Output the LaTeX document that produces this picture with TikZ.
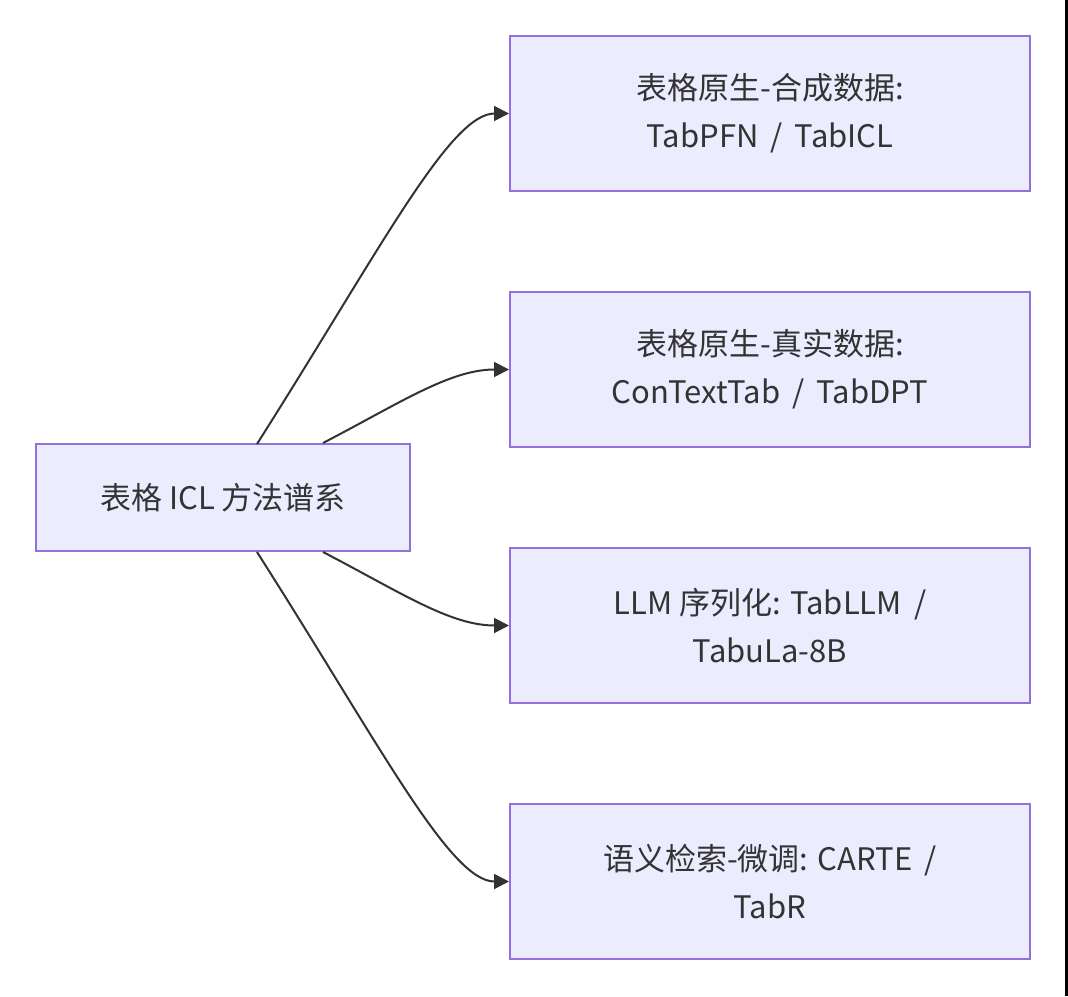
\documentclass[tikz,border=0pt]{standalone}
\usepackage{fontspec}
\setmainfont{Noto Sans CJK SC}
\usetikzlibrary{arrows.meta}
\definecolor{boxfill}{HTML}{ECECFF}
\definecolor{boxline}{HTML}{9370DB}
\definecolor{ink}{HTML}{333333}
\begin{document}
\begin{tikzpicture}[x=1pt,y=-1pt,
  box/.style={draw=boxline,fill=boxfill,line width=2pt,text=ink,align=center,
    font=\fontsize{31}{48}\selectfont,inner sep=0pt},
  edge/.style={draw=ink,line width=2pt,-{Triangle[length=15pt,width=15pt]}}]
\useasboundingbox (0,0) rectangle (1068,996);
\fill[white] (0,0) rectangle (1068,996);
\draw[black,line width=3pt] (1066.5,0) -- (1066.5,996);
\node[box,minimum width=374pt,minimum height=107pt] (root) at (223,497.5) {表格 ICL 方法谱系};
\node[box,minimum width=520pt,minimum height=155pt] (b1) at (770,113.5) {表格原生-合成数据:\\ TabPFN \,/\, TabICL};
\node[box,minimum width=520pt,minimum height=155pt] (b2) at (770,369.5) {表格原生-真实数据:\\ConTextTab \,/\, TabDPT};
\node[box,minimum width=520pt,minimum height=155pt] (b3) at (770,625.5) {LLM 序列化: TabLLM \,/\\TabuLa-8B};
\node[box,minimum width=520pt,minimum height=155pt] (b4) at (770,881.5) {语义检索-微调: CARTE \,/\\TabR};
\coordinate (s1) at (257,444);
\coordinate (s2) at (323,443);
\coordinate (s3) at (323,552);
\coordinate (s4) at (257,552);
\draw[edge] (s1) .. controls (380,250) and (450,113.5) .. (b1.west);
\draw[edge] (s2) .. controls (400,403) and (450,369.5) .. (b2.west);
\draw[edge] (s3) .. controls (400,592) and (450,625.5) .. (b3.west);
\draw[edge] (s4) .. controls (380,745) and (450,881.5) .. (b4.west);
\end{tikzpicture}
\end{document}
